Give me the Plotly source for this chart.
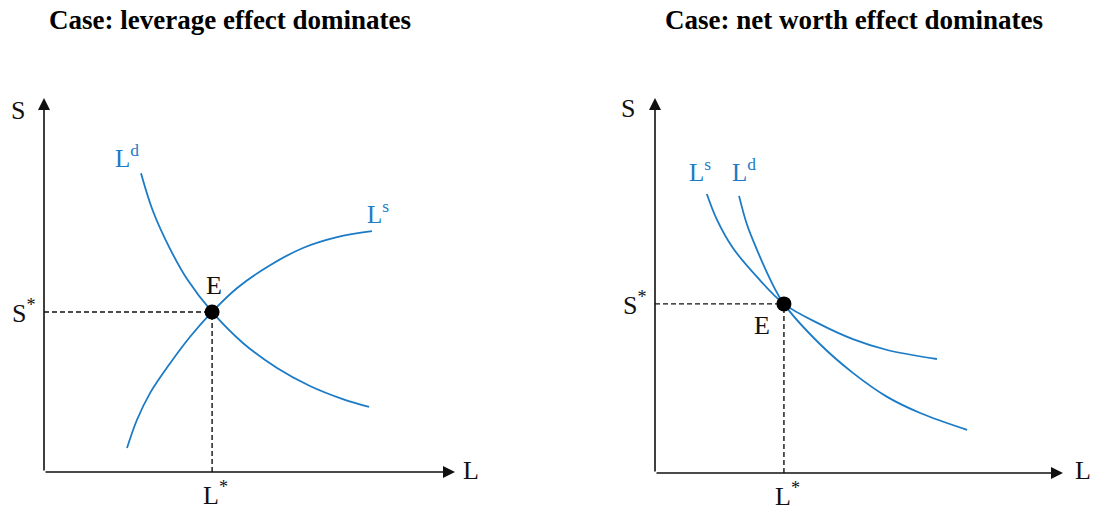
import plotly.graph_objects as go

# ---- data (schematic units: each axis runs from 0 to 10) ----
# Left panel: leverage effect dominates
left_ld_L = [2.36, 2.65, 3.07, 3.48, 4.09, 4.84, 5.67, 6.47, 7.27, 7.91]
left_ld_S = [7.99, 6.98, 5.96, 5.16, 4.28, 3.45, 2.78, 2.30, 1.95, 1.74]
left_ls_L = [2.02, 2.26, 2.58, 3.07, 3.55, 4.09, 4.70, 5.50, 6.30, 7.13, 7.98]
left_ls_S = [0.64, 1.39, 2.11, 2.91, 3.61, 4.28, 4.92, 5.53, 5.99, 6.28, 6.44]
left_eq = (4.09, 4.28)

# Right panel: net worth effect dominates
right_ls_L = [1.27, 1.52, 1.91, 2.50, 3.16, 4.04, 4.85, 5.69, 6.91]
right_ls_S = [7.44, 6.75, 6.00, 5.23, 4.51, 3.97, 3.57, 3.28, 3.04]
right_ld_L = [2.06, 2.25, 2.50, 2.82, 3.16, 4.04, 4.85, 5.69, 6.50, 7.65]
right_ld_S = [7.39, 6.64, 5.95, 5.17, 4.51, 3.44, 2.67, 2.03, 1.60, 1.15]
right_eq = (3.16, 4.51)

titles = ["Case: leverage effect dominates", "Case: net worth effect dominates"]
AXIS_MAX = 10

# ---- styling ----
BLUE = "#1b7bc6"
INK = "#111111"
SERIF = "Liberation Serif, Times New Roman, serif"
W, H = 1096, 510

fig = go.Figure()

# Panel geometry: origin pixel (x from left, y from top) and pixels per unit
panels = [
    dict(xa="x", ya="y", dom=[0.0, 0.5], ox=44, oy=472, ux=41.1, uy=37.4,
         curves=[(left_ld_L, left_ld_S), (left_ls_L, left_ls_S)], eq=left_eq),
    dict(xa="x2", ya="y2", dom=[0.5, 1.0], ox=655, oy=473, ux=40.8, uy=37.5,
         curves=[(right_ls_L, right_ls_S), (right_ld_L, right_ld_S)], eq=right_eq),
]

annotations = []
for i, p in enumerate(panels):
    xa, ya = p["xa"], p["ya"]
    # supply / demand curves
    for cl, cs in p["curves"]:
        fig.add_trace(go.Scatter(x=cl, y=cs, mode="lines", xaxis=xa, yaxis=ya,
                                 line=dict(color=BLUE, width=1.8, shape="spline", smoothing=1.0),
                                 hoverinfo="skip", showlegend=False))
    eL, eS = p["eq"]
    # dashed guides to the axes
    fig.add_trace(go.Scatter(x=[0, eL], y=[eS, eS], mode="lines", xaxis=xa, yaxis=ya,
                             line=dict(color=INK, width=1.4, dash="5px,3px"),
                             hoverinfo="skip", showlegend=False))
    fig.add_trace(go.Scatter(x=[eL, eL], y=[0, eS], mode="lines", xaxis=xa, yaxis=ya,
                             line=dict(color=INK, width=1.4, dash="5px,3px"),
                             hoverinfo="skip", showlegend=False))
    # equilibrium point
    fig.add_trace(go.Scatter(x=[eL], y=[eS], mode="markers", xaxis=xa, yaxis=ya,
                             marker=dict(color="black", size=15),
                             hoverinfo="skip", showlegend=False))
    # axes with arrowheads
    for tip, tail in [((AXIS_MAX, 0), (0, 0)), ((0, AXIS_MAX), (0, 0))]:
        annotations.append(dict(x=tip[0], y=tip[1], ax=tail[0], ay=tail[1],
                                xref=xa, yref=ya, axref=xa, ayref=ya, text="",
                                showarrow=True, arrowhead=2, arrowsize=1.5,
                                arrowwidth=1.6, arrowcolor=INK, standoff=0))

    # px -> data helpers for label placement
    def dx(px, p=p):
        return (px - p["ox"]) / p["ux"]

    def dy(py, p=p):
        return (p["oy"] - py) / p["uy"]

    txt = dict(xref=xa, yref=ya, showarrow=False, xanchor="center", yanchor="middle",
               font=dict(family=SERIF, size=26, color=INK))
    blue_txt = dict(xref=xa, yref=ya, showarrow=False, xanchor="center", yanchor="middle",
                    font=dict(family=SERIF, size=25, color=BLUE))
    star = dict(xref=xa, yref=ya, showarrow=False, yanchor="middle",
                font=dict(family=SERIF, size=26, color=INK))
    if i == 0:
        annotations += [
            dict(x=dx(18), y=dy(110), text="S", **txt),
            dict(x=dx(471), y=dy(470), text="L", **txt),
            dict(x=0, y=eS, text="S<sup>*</sup>", xanchor="right", xshift=-6, **star),
            dict(x=eL, y=0, text="L<sup>*</sup>", yshift=-21, xshift=3, xanchor="center", **star),
            dict(x=eL, y=eS, text="E", yshift=26, xshift=2, **txt),
            dict(x=dx(127), y=dy(156), text="L<sup>d</sup>", **blue_txt),
            dict(x=dx(378), y=dy(212), text="L<sup>s</sup>", **blue_txt),
        ]
    else:
        annotations += [
            dict(x=dx(628), y=dy(108), text="S", **txt),
            dict(x=dx(1083), y=dy(470), text="L", **txt),
            dict(x=0, y=eS, text="S<sup>*</sup>", xanchor="right", xshift=-6, **star),
            dict(x=eL, y=0, text="L<sup>*</sup>", yshift=-21, xshift=4, xanchor="center", **star),
            dict(x=eL, y=eS, text="E", yshift=-22, xshift=-22, **txt),
            dict(x=dx(700), y=dy(170), text="L<sup>s</sup>", **blue_txt),
            dict(x=dx(744), y=dy(170), text="L<sup>d</sup>", **blue_txt),
        ]

    # panel title
    annotations.append(dict(x=[230, 854][i] / W, y=1 - 20 / H, xref="paper", yref="paper",
                            xanchor="center", yanchor="middle",
                            text=f"<b>{titles[i]}</b>", showarrow=False,
                            font=dict(family=SERIF, size=27, color="black")))

layout_axes = {}
for i, p in enumerate(panels):
    px0 = p["dom"][0] * W
    px1 = p["dom"][1] * W
    xr = [(px0 - p["ox"]) / p["ux"], (px1 - p["ox"]) / p["ux"]]
    yr = [(p["oy"] - H) / p["uy"], p["oy"] / p["uy"]]
    sfx = "" if i == 0 else "2"
    layout_axes["xaxis" + sfx] = dict(domain=p["dom"], range=xr, visible=False, fixedrange=True)
    layout_axes["yaxis" + sfx] = dict(domain=[0, 1], range=yr, visible=False, fixedrange=True,
                                      anchor="x" + sfx)
layout_axes["xaxis2"]["anchor"] = "y2"

fig.update_layout(width=W, height=H, margin=dict(l=0, r=0, t=0, b=0),
                  paper_bgcolor="white", plot_bgcolor="white",
                  annotations=annotations, showlegend=False, **layout_axes)

fig.write_html("out.html", config={"displayModeBar": False})
